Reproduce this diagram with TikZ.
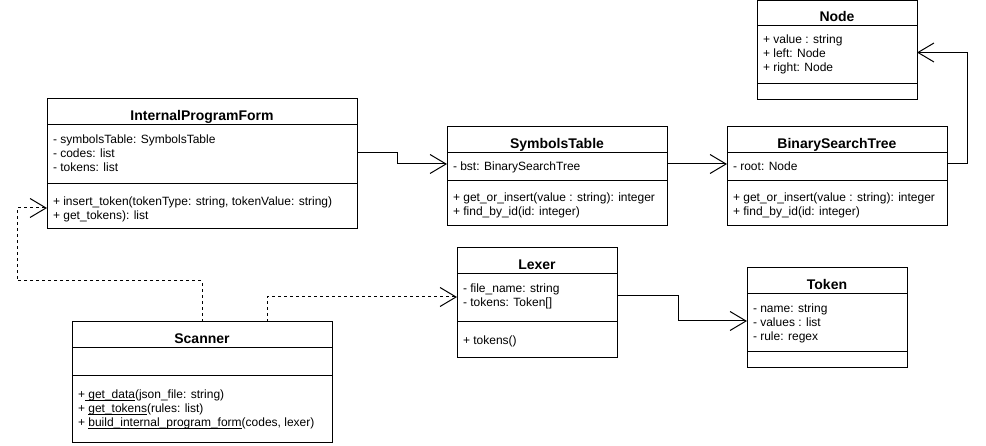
\documentclass[tikz,border=0pt]{standalone}
\usepackage{fontspec}
\setmainfont{Liberation Sans}
\usetikzlibrary{arrows.meta,calc}
\newcommand\lstr{\rule[-2.7pt]{0pt}{14pt}}
\newlength\ulwd
\newcommand\ulin[1]{\settowidth\ulwd{#1}\rlap{\rule[-2.4pt]{\ulwd}{0.9pt}}#1}
\tikzset{
  cls/.style={draw=black, line width=1pt, fill=white, inner sep=0pt, outer sep=0pt, anchor=north west},
  ttl/.style={cls, font=\fontsize{14}{16}\selectfont\bfseries, text height=18pt, text depth=0pt},
  txt/.style={anchor=north west, inner sep=0pt, outer sep=0pt, align=left, font=\fontsize{12}{14}\selectfont},
  assoc/.style={line width=1pt, -{Straight Barb[length=16pt,width=19pt]}},
  dep/.style={assoc, dash pattern=on 3pt off 3pt},
}
\begin{document}
\begin{tikzpicture}[x=1pt,y=-1pt]
\useasboundingbox (0,0) rectangle (986,446);
\fill[white] (0,0) rectangle (986,446);

% InternalProgramForm
\node[ttl, minimum width=310pt, minimum height=26pt] (ipf) at (47,99) {InternalProgramForm};
\node[cls, minimum width=310pt, minimum height=59pt] (ipf-a) at (ipf.south west) {};
\node[cls, minimum width=310pt, minimum height=45pt] (ipf-m) at (ipf-a.south west) {};
\node[txt] (ipf-at) at ($(ipf-a.north west)+(6,7)$) {\lstr- symbolsTable: SymbolsTable\\\lstr- codes: list\\\lstr- tokens: list};
\node[txt] (ipf-mt) at ($(ipf-m.north west)+(6,10)$) {\lstr+ insert\_token(tokenType: string, tokenValue: string)\\\lstr+ get\_tokens): list};

% SymbolsTable
\node[ttl, minimum width=220pt, minimum height=26pt] (st) at (447,127) {SymbolsTable};
\node[cls, minimum width=220pt, minimum height=28pt] (st-a) at (st.south west) {};
\node[cls, minimum width=220pt, minimum height=45pt] (st-m) at (st-a.south west) {};
\node[txt] (st-at) at ($(st-a.north west)+(6,6)$) {\lstr- bst: BinarySearchTree};
\node[txt] (st-mt) at ($(st-m.north west)+(6,9)$) {\lstr+ get\_or\_insert(value : string): integer\\\lstr+ find\_by\_id(id: integer)};

% BinarySearchTree
\node[ttl, minimum width=220pt, minimum height=26pt] (bst) at (727,127) {BinarySearchTree};
\node[cls, minimum width=220pt, minimum height=28pt] (bst-a) at (bst.south west) {};
\node[cls, minimum width=220pt, minimum height=45pt] (bst-m) at (bst-a.south west) {};
\node[txt] (bst-at) at ($(bst-a.north west)+(6,6)$) {\lstr- root: Node};
\node[txt] (bst-mt) at ($(bst-m.north west)+(6,9)$) {\lstr+ get\_or\_insert(value : string): integer\\\lstr+ find\_by\_id(id: integer)};

% Node
\node[ttl, minimum width=160pt, minimum height=25pt, text height=17pt] (nd) at (757,0.5) {Node};
\node[cls, minimum width=160pt, minimum height=58pt] (nd-a) at (nd.south west) {};
\node[cls, minimum width=160pt, minimum height=16pt] (nd-m) at (nd-a.south west) {};
\node[txt] (nd-at) at ($(nd-a.north west)+(6,7)$) {\lstr+ value : string\\\lstr+ left: Node\\\lstr+ right: Node};

% Lexer
\node[ttl, minimum width=160pt, minimum height=26pt] (lex) at (457,248) {Lexer};
\node[cls, minimum width=160pt, minimum height=48pt] (lex-a) at (lex.south west) {};
\node[cls, minimum width=160pt, minimum height=36pt] (lex-m) at (lex-a.south west) {};
\node[txt] (lex-at) at ($(lex-a.north west)+(6,7)$) {\lstr- file\_name: string\\\lstr- tokens: Token[]};
\node[txt] (lex-mt) at ($(lex-m.north west)+(6,11)$) {\lstr+ tokens()};

% Token
\node[ttl, minimum width=160pt, minimum height=26pt] (tok) at (747,268) {Token};
\node[cls, minimum width=160pt, minimum height=58pt] (tok-a) at (tok.south west) {};
\node[cls, minimum width=160pt, minimum height=16pt] (tok-m) at (tok-a.south west) {};
\node[txt] (tok-at) at ($(tok-a.north west)+(6,7)$) {\lstr- name: string\\\lstr- values : list\\\lstr- rule: regex};

% Scanner
\node[ttl, minimum width=260pt, minimum height=26pt] (scn) at (72,322) {Scanner};
\node[cls, minimum width=260pt, minimum height=28pt] (scn-a) at (scn.south west) {};
\node[cls, minimum width=260pt, minimum height=66pt] (scn-m) at (scn-a.south west) {};
\node[txt] (scn-mt) at ($(scn-m.north west)+(6,11)$) {\lstr+\ulin{ get\_data}(json\_file: string)\\\lstr+ \ulin{get\_tokens}(rules: list)\\\lstr+ \ulin{build\_internal\_program\_form}(codes, lexer)};

% connectors
\draw[assoc] ($(ipf-a.east)+(0,-1.5)$) -- ++(40,0) |- ($(st-a.west)+(0,-3)$);
\draw[assoc] ($(st-a.east)+(0,-3)$) -- ($(bst-a.west)+(0,-3)$);
\draw[assoc] ($(bst-a.east)+(0,-3)$) -- ++(20,0) |- ($(nd-a.east)+(0,-2)$);
\draw[assoc] ($(lex-a.east)+(0,-2)$) -- ++(61,0) |- ($(tok-a.west)+(0,-2)$);
\draw[dep] (scn.north) -- ++(0,-41) -- ++(-185,0) |- ($(ipf-m.west)+(0,1.5)$);
\draw[dep] ($(scn.north)+(65,0)$) |- ($(lex-a.west)+(0,-1)$);
\end{tikzpicture}
\end{document}
